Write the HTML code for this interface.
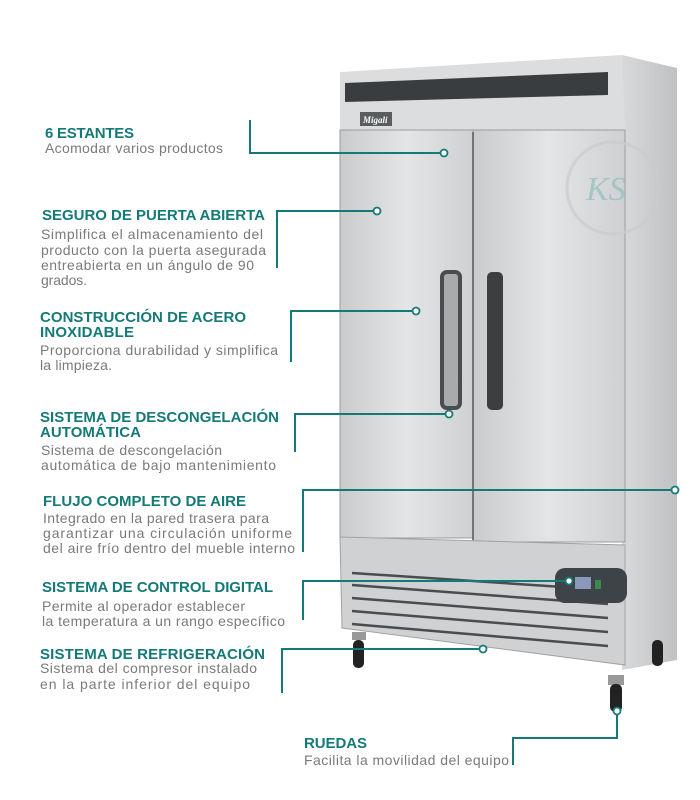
<!DOCTYPE html>
<html><head><meta charset="utf-8"><style>
html,body{margin:0;padding:0;background:#fff;}
svg{display:block}
.h{font-family:"Liberation Sans",sans-serif;font-weight:bold;font-size:15px;fill:#137a78}
.b{font-family:"Liberation Sans",sans-serif;font-size:14px;fill:#7a7a7a}
.l{stroke:#137a78;stroke-width:2;fill:none}
.c{fill:#fff;stroke:#137a78;stroke-width:1.8}
</style></head><body>
<svg width="700" height="800" viewBox="0 0 700 800" xmlns="http://www.w3.org/2000/svg">
<defs>
<linearGradient id="door" x1="0" x2="1"><stop offset="0" stop-color="#c9cbcd"/><stop offset="0.5" stop-color="#e4e5e6"/><stop offset="1" stop-color="#cfd0d2"/></linearGradient>
<linearGradient id="side" x1="0" x2="1"><stop offset="0" stop-color="#d8d9da"/><stop offset="1" stop-color="#bfc1c3"/></linearGradient>
</defs>
<polygon points="622,55 677,68 677,660 622,670" fill="url(#side)"/>
<polygon points="340,72 622,55 625,130 340,130" fill="#dcdddf"/>
<polygon points="345,83 608,72 608,95 345,102" fill="#3a3d40"/>
<rect x="360" y="112" width="32" height="14" fill="#5a5d60"/>
<text x="363" y="123" font-family="Liberation Serif" font-style="italic" font-weight="bold" font-size="9" fill="#fff">Migali</text>
<rect x="340" y="130" width="133" height="408" fill="url(#door)" stroke="#9a9c9e" stroke-width="1"/>
<rect x="473" y="130" width="152" height="412" fill="url(#door)" stroke="#9a9c9e" stroke-width="1"/>
<line x1="473" y1="132" x2="473" y2="540" stroke="#555" stroke-width="1.5"/>
<rect x="442" y="272" width="18" height="136" rx="5" fill="#a8aaac" stroke="#4a4d50" stroke-width="4"/>
<rect x="487" y="272" width="16" height="138" rx="5" fill="#3c3f42"/>
<polygon points="340,537 625,545 625,665 342,628" fill="#cfd1d3" stroke="#a0a2a4"/>
<g stroke="#4a4d50" stroke-width="2.5">
<line x1="352" y1="573" x2="608" y2="590"/>
<line x1="352" y1="585" x2="608" y2="604"/>
<line x1="352" y1="598" x2="608" y2="618"/>
<line x1="352" y1="611" x2="608" y2="632"/>
<line x1="352" y1="624" x2="608" y2="646"/>
</g>
<rect x="555" y="568" width="72" height="35" rx="10" fill="#3e4347"/>
<rect x="575" y="577" width="16" height="12" fill="#8899bb"/>
<rect x="595" y="580" width="6" height="9" fill="#3a8a4a"/>
<rect x="352" y="632" width="14" height="8" fill="#999"/>
<rect x="353" y="640" width="11" height="28" rx="5" fill="#222"/>
<rect x="652" y="640" width="11" height="26" rx="5" fill="#222"/>
<rect x="608" y="675" width="16" height="10" fill="#999"/>
<rect x="610" y="684" width="12" height="28" rx="5" fill="#222"/>
<circle cx="613" cy="188" r="46" fill="none" stroke="#c8ccd0" stroke-width="3" opacity="0.7"/>
<text x="586" y="200" font-family="Liberation Serif" font-style="italic" font-size="34" fill="#8fbfbf" opacity="0.7">KS</text>

<polyline class="l" points="250,120 250,153 444,153"/><circle class="c" cx="444" cy="153" r="3.5"/>
<polyline class="l" points="277,268 277,211 377,211"/><circle class="c" cx="377" cy="211" r="3.5"/>
<polyline class="l" points="291,362 291,311 416,311"/><circle class="c" cx="416" cy="311" r="3.5"/>
<polyline class="l" points="295,452 295,414 449,414"/><circle class="c" cx="449" cy="414" r="3.5"/>
<polyline class="l" points="303,552 303,490 675,490"/><circle class="c" cx="675" cy="490" r="3.5"/>
<polyline class="l" points="303,620 303,581 569,581"/><circle class="c" cx="569" cy="581" r="3.5"/>
<polyline class="l" points="282,693 282,649 483,649"/><circle class="c" cx="483" cy="649" r="3.5"/>
<polyline class="l" points="617,711 617,738 513,738 513,765"/><circle class="c" cx="617" cy="711" r="3.5"/>

<text class="h" x="45" y="138" textLength="89">6 ESTANTES</text>
<text class="b" x="45" y="153" textLength="178">Acomodar varios productos</text>

<text class="h" x="42" y="220" textLength="223">SEGURO DE PUERTA ABIERTA</text>
<text class="b" x="41" y="239" textLength="222">Simplifica el almacenamiento del</text>
<text class="b" x="41" y="255" textLength="225">producto con la puerta asegurada</text>
<text class="b" x="41" y="270" textLength="213">entreabierta en un ángulo de 90</text>
<text class="b" x="41" y="285" textLength="46">grados.</text>

<text class="h" x="40" y="322" textLength="206">CONSTRUCCIÓN DE ACERO</text>
<text class="h" x="40" y="337" textLength="94">INOXIDABLE</text>
<text class="b" x="40" y="355" textLength="238">Proporciona durabilidad y simplifica</text>
<text class="b" x="40" y="370" textLength="72">la limpieza.</text>

<text class="h" x="40" y="422" textLength="239">SISTEMA DE DESCONGELACIÓN</text>
<text class="h" x="40" y="437" textLength="101">AUTOMÁTICA</text>
<text class="b" x="41" y="455" textLength="181">Sistema de descongelación</text>
<text class="b" x="41" y="470" textLength="235">automática de bajo mantenimiento</text>

<text class="h" x="43" y="506" textLength="203">FLUJO COMPLETO DE AIRE</text>
<text class="b" x="43" y="523" textLength="226">Integrado en la pared trasera para</text>
<text class="b" x="43" y="538" textLength="249">garantizar una circulación uniforme</text>
<text class="b" x="43" y="553" textLength="252">del aire frío dentro del mueble interno</text>

<text class="h" x="42" y="592" textLength="231">SISTEMA DE CONTROL DIGITAL</text>
<text class="b" x="42" y="611" textLength="203">Permite al operador establecer</text>
<text class="b" x="42" y="626" textLength="243">la temperatura a un rango específico</text>

<text class="h" x="40" y="659" textLength="225">SISTEMA DE REFRIGERACIÓN</text>
<text class="b" x="40" y="673" textLength="217">Sistema del compresor instalado</text>
<text class="b" x="40" y="689" textLength="210">en la parte inferior del equipo</text>

<text class="h" x="304" y="748" textLength="63">RUEDAS</text>
<text class="b" x="304" y="765" textLength="205">Facilita la movilidad del equipo</text>
</svg>
</body></html>
